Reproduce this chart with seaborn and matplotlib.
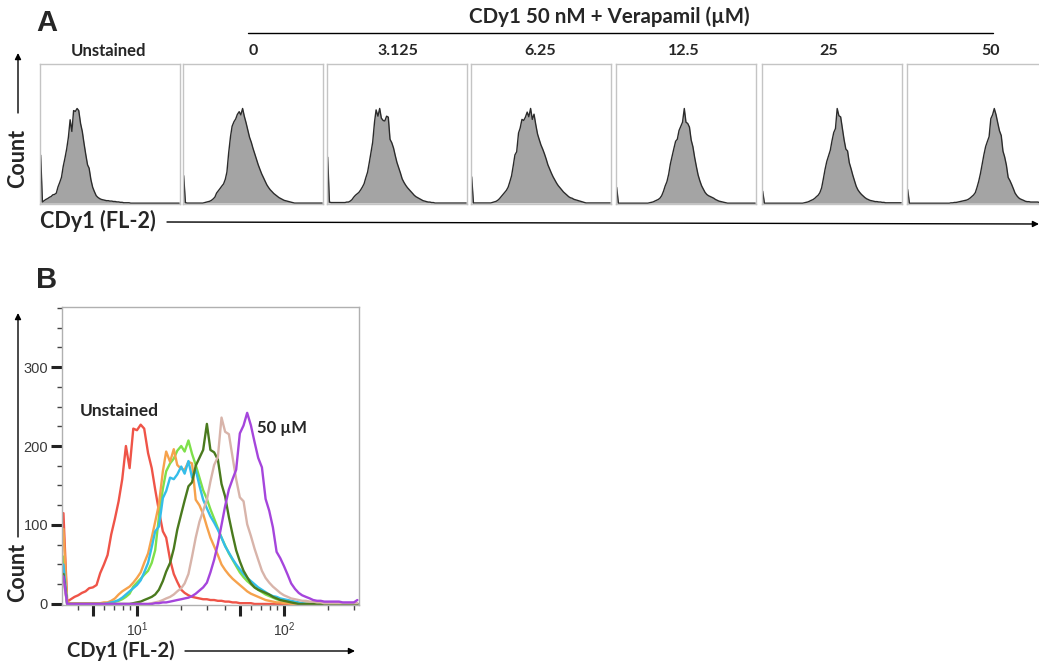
import matplotlib
matplotlib.use("Agg")
import pandas as pd
import matplotlib.pyplot as plt
import seaborn as sns

# FL-2 channel centres (log spaced)
fl2 = [3.16, 3.35, 3.55, 3.76, 3.98, 4.22, 4.47, 4.73, 5.01, 5.31,
       5.62, 5.96, 6.31, 6.68, 7.08, 7.50, 7.94, 8.41, 8.91, 9.44,
       10.0, 10.6, 11.2, 11.9, 12.6, 13.3, 14.1, 15.0, 15.8, 16.8,
       17.8, 18.8, 20.0, 21.1, 22.4, 23.7, 25.1, 26.6, 28.2, 29.9,
       31.6, 33.5, 35.5, 37.6, 39.8, 42.2, 44.7, 47.3, 50.1, 53.1,
       56.2, 59.6, 63.1, 66.8, 70.8, 75.0, 79.4, 84.1, 89.1, 94.4,
       100, 106, 112, 119, 126, 133, 141, 150, 158, 168,
       178, 188, 200, 211, 224, 237, 251, 266, 282, 299,
       316]

# counts per channel
unstained = [115, 3, 6, 9, 11, 14, 16, 20, 21, 24,
             39, 50, 62, 88, 108, 130, 158, 200, 172, 222,
             220, 227, 222, 191, 172, 145, 118, 92, 84, 56,
             38, 28, 18, 14, 11, 9, 8, 7, 6, 6,
             5, 5, 4, 4, 3, 3, 2, 2, 1, 1,
             1, 1, 0, 0, 0, 0, 0, 0, 0, 0,
             0, 0, 0, 0, 0, 0, 0, 0, 0, 0,
             0, 0, 0, 0, 0, 0, 0, 0, 0, 0,
             0]
vera_0 = [60, 1, 0, 0, 0, 0, 0, 0, 0, 0,
          0, 0, 1, 2, 3, 4, 6, 9, 13, 22,
          27, 32, 37, 42, 52, 68, 110, 146, 168, 178,
          184, 194, 200, 193, 207, 190, 176, 160, 144, 133,
          120, 108, 96, 84, 74, 64, 56, 48, 40, 34,
          29, 25, 21, 18, 15, 12, 10, 8, 6, 5,
          4, 3, 2, 1, 0, 0, 0, 0, 0, 0,
          0, 0, 0, 0, 0, 0, 0, 0, 0, 0,
          0]
vera_3125 = [95, 2, 1, 1, 1, 1, 1, 1, 1, 1,
             1, 2, 2, 4, 7, 12, 16, 19, 22, 27,
             33, 40, 52, 64, 84, 104, 126, 168, 193, 180,
             196, 176, 171, 170, 180, 178, 132, 125, 114, 98,
             84, 73, 62, 50, 43, 37, 32, 28, 24, 20,
             16, 13, 11, 9, 7, 5, 4, 3, 2, 2,
             1, 1, 0, 0, 0, 0, 0, 0, 0, 0,
             0, 0, 0, 0, 0, 0, 0, 0, 0, 0,
             0]
vera_625 = [50, 0, 0, 0, 0, 0, 0, 0, 0, 0,
            0, 0, 1, 2, 3, 5, 8, 12, 16, 20,
            24, 30, 40, 52, 72, 92, 98, 134, 143, 160,
            158, 164, 174, 165, 181, 160, 170, 150, 132, 121,
            111, 103, 94, 84, 73, 65, 57, 50, 44, 38,
            33, 29, 25, 21, 18, 15, 12, 10, 9, 7,
            6, 5, 4, 3, 2, 1, 0, 0, 0, 0,
            0, 0, 0, 0, 0, 0, 0, 0, 0, 0,
            0]
vera_125 = [38, 0, 0, 0, 0, 0, 0, 0, 0, 0,
            0, 0, 0, 0, 0, 0, 0, 0, 0, 1,
            2, 3, 5, 7, 9, 12, 18, 29, 41, 52,
            70, 94, 114, 131, 149, 154, 175, 185, 195, 228,
            195, 192, 183, 152, 136, 110, 88, 68, 54, 42,
            34, 26, 21, 18, 16, 14, 12, 9, 7, 5,
            4, 3, 2, 1, 0, 0, 0, 0, 0, 0,
            0, 0, 0, 0, 0, 0, 0, 0, 0, 0,
            0]
vera_25 = [30, 0, 0, 0, 0, 0, 0, 0, 0, 0,
           0, 0, 0, 0, 0, 0, 0, 0, 0, 0,
           0, 0, 0, 0, 1, 2, 3, 5, 7, 9,
           12, 16, 20, 26, 38, 60, 84, 104, 118, 132,
           155, 176, 186, 236, 218, 215, 186, 158, 135, 130,
           101, 86, 70, 56, 42, 33, 27, 22, 18, 14,
           11, 9, 7, 6, 5, 4, 4, 3, 3, 2,
           2, 1, 1, 1, 1, 1, 1, 1, 1, 1,
           1]
vera_50 = [35, 0, 0, 0, 0, 0, 0, 0, 0, 0,
           0, 0, 0, 0, 0, 0, 0, 0, 0, 0,
           0, 0, 0, 0, 0, 1, 1, 2, 2, 3,
           4, 5, 6, 7, 8, 10, 13, 17, 21, 27,
           40, 56, 76, 100, 124, 145, 158, 170, 216, 226,
           242, 226, 205, 185, 173, 133, 118, 97, 66, 58,
           48, 37, 26, 19, 14, 11, 9, 7, 5, 4,
           4, 3, 3, 3, 3, 3, 2, 2, 2, 2,
           5]

samples = ["Unstained", "0", "3.125", "6.25", "12.5", "25", "50"]
counts = [unstained, vera_0, vera_3125, vera_625, vera_125, vera_25, vera_50]
line_colors = ["#ef5448", "#7ee04a", "#f6a24c", "#34bde9", "#4a7a1e", "#d8b4aa", "#a545dc"]

df = pd.concat([pd.DataFrame({"fl2": fl2, "count": c, "sample": s})
                for s, c in zip(samples, counts)], ignore_index=True)

sns.set_style("white")
plt.rcParams["font.family"] = ["Lato", "DejaVu Sans"]
plt.rcParams["mathtext.fontset"] = "custom"
plt.rcParams["mathtext.rm"] = "Liberation Sans"

W, H = 1039, 665
fig = plt.figure(figsize=(W / 100, H / 100), dpi=100)
xlim = (3.09, 324)

# ---- panel A: one small histogram per sample
box_left = [40, 183, 327, 471, 616, 762, 907]
for left, s in zip(box_left, samples):
    ax = fig.add_axes([left / W, 1 - 204 / H, 140 / W, 140 / H])
    sub = df[df["sample"] == s]
    ax.fill_between(sub["fl2"], sub["count"], color="#a4a4a4", lw=0)
    sns.lineplot(data=sub, x="fl2", y="count", color="#2b2b2b", lw=1.0,
                 estimator=None, sort=False, ax=ax)
    ax.set_xscale("log")
    ax.set_xlim(*xlim)
    ax.set_ylim(-2, sub["count"].max() * 1.47)
    ax.set_xticks([])
    ax.set_yticks([])
    ax.minorticks_off()
    ax.set_xlabel("")
    ax.set_ylabel("")
    for sp in ax.spines.values():
        sp.set_color("#c4c4c4")
        sp.set_linewidth(1.0)

# ---- panel B: overlay
axb = fig.add_axes([62 / W, 1 - 605 / H, 297 / W, 298 / H])
sns.lineplot(data=df, x="fl2", y="count", hue="sample", hue_order=samples,
             palette=dict(zip(samples, line_colors)), estimator=None, sort=False,
             legend=False, lw=1.7, ax=axb)
axb.set_xscale("log")
axb.set_xlim(*xlim)
axb.set_ylim(-1.3, 376)
axb.set_xticks([5, 10, 50, 100], labels=["", "$\\mathregular{10^1}$", "", "$\\mathregular{10^2}$"])
axb.set_xticks([4, 6, 7, 8, 9, 20, 30, 40, 60, 70, 80, 90, 200, 300], minor=True)
axb.set_xticklabels([], minor=True)
axb.set_yticks([0, 100, 200, 300])
axb.set_yticks([25, 50, 75, 125, 150, 175, 225, 250, 275, 325, 350, 375], minor=True)
axb.tick_params(axis="both", which="both", bottom=True, left=True, top=False, right=False)
axb.tick_params(axis="both", which="major", direction="out", length=8, width=2.2,
                color="#222222", labelsize=10.5, labelcolor="#3a3a3a", pad=2)
axb.tick_params(axis="both", which="minor", direction="out", length=3.5, width=1,
                color="#444444")
axb.tick_params(axis="x", which="major", pad=3, labelsize=10)
for lab in axb.get_xticklabels() + axb.get_yticklabels():
    lab.set_family("Liberation Sans")
axb.set_xlabel("")
axb.set_ylabel("")
for sp in axb.spines.values():
    sp.set_color("#b0b0b0")
    sp.set_linewidth(1.0)

# ---- overlay for panel letters, titles and axis arrows (pixel coords)
ov = fig.add_axes([0, 0, 1, 1])
ov.set_axis_off()
ov.set_xlim(0, W)
ov.set_ylim(H, 0)

ov.text(47, 23, "A", fontsize=21, fontweight="bold", family="Liberation Sans",
        ha="center", va="center")
ov.text(47, 280, "B", fontsize=21, fontweight="bold", family="Liberation Sans",
        ha="center", va="center")

ov.text(609, 17, "CDy1 50 nM + Verapamil (\u00b5M)", fontsize=14.8, fontweight="bold",
        ha="center", va="center")
ov.plot([248, 993], [33, 33], color="black", lw=1)

ov.text(108, 51, "Unstained", fontsize=12, fontweight="bold", ha="center", va="center")
label_x = [253, 398, 540, 684, 829, 991]
for x, s in zip(label_x, samples[1:]):
    ov.text(x, 51, s, fontsize=11.5, fontweight="bold", ha="center", va="center")

arrow = dict(arrowstyle="-|>", color="black", lw=1, mutation_scale=9, shrinkA=0, shrinkB=0)
ov.text(18, 158, "Count", fontsize=15.5, fontweight="bold", rotation=90,
        ha="center", va="center")
ov.annotate("", xy=(18, 53), xytext=(18, 113), arrowprops=arrow)
ov.text(40, 221, "CDy1 (FL-2)", fontsize=15.5, fontweight="bold", ha="left", va="center")
ov.annotate("", xy=(1039, 224), xytext=(167, 222), arrowprops=arrow)

ov.text(18, 572, "Count", fontsize=15.5, fontweight="bold", rotation=90,
        ha="center", va="center")
ov.annotate("", xy=(18, 313), xytext=(18, 537), arrowprops=arrow)
ov.text(67, 651, "CDy1 (FL-2)", fontsize=14.5, fontweight="bold", ha="left", va="center")
ov.annotate("", xy=(355, 651), xytext=(185, 651), arrowprops=arrow)

ov.text(80, 411, "Unstained", fontsize=12.5, fontweight="bold", ha="left", va="center")
ov.text(257, 428, "50 \u00b5M", fontsize=12, fontweight="bold", ha="left", va="center")

fig.savefig("out.png", dpi=100)
